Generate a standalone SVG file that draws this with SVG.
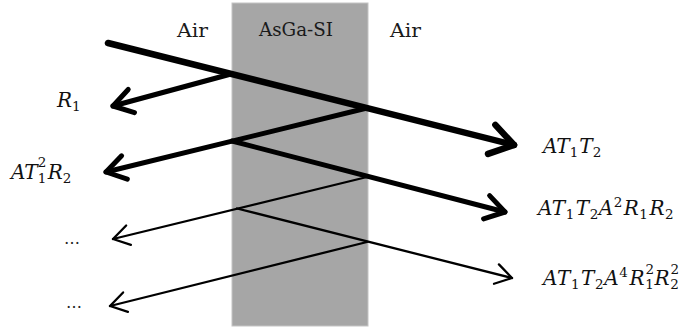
<svg xmlns="http://www.w3.org/2000/svg" width="686" height="329" viewBox="0 0 686 329">
<style>
.lbl{font-family:"DejaVu Serif","Liberation Serif",serif;font-size:18px;fill:#1a1a1a}
.m{font-family:"DejaVu Serif","Liberation Serif",serif;font-size:20px;font-style:italic;fill:#111}
.s{font-size:13.5px;font-style:normal}
.c{fill:none;stroke:#000;stroke-linecap:round;stroke-linejoin:round}
.w1{stroke-width:6.5}
.w2{stroke-width:5}
.w3{stroke-width:2.3}
.dots{font-family:"DejaVu Serif","Liberation Serif",serif;font-size:16px;fill:#222}
</style>
<defs>
<marker id="aThick" markerUnits="userSpaceOnUse" orient="auto" overflow="visible" markerWidth="1" markerHeight="1" refX="0" refY="0">
<path d="M-23,-15 L0,0 L-23,15" fill="none" stroke="#000" stroke-width="6.5" stroke-linecap="round" stroke-linejoin="round"/>
</marker>
<marker id="aMed" markerUnits="userSpaceOnUse" orient="auto" overflow="visible" markerWidth="1" markerHeight="1" refX="0" refY="0">
<path d="M-19,-12 L0,0 L-19,12" fill="none" stroke="#000" stroke-width="5" stroke-linecap="round" stroke-linejoin="round"/>
</marker>
<marker id="aThin" markerUnits="userSpaceOnUse" orient="auto" overflow="visible" markerWidth="1" markerHeight="1" refX="0" refY="0">
<path d="M-16,-10 L0,0 L-16,10" fill="none" stroke="#000" stroke-width="2.3" stroke-linecap="round" stroke-linejoin="round"/>
</marker>
</defs>
<rect width="686" height="329" fill="#fff"/>
<g id="slab">
<rect x="232" y="3" width="136" height="323" fill="#a6a6a6" stroke="#c4c4c4" stroke-width="1"/>
</g>
<g id="labels-top">
<text class="lbl" x="177" y="37" textLength="31" lengthAdjust="spacingAndGlyphs">Air</text>
<text class="lbl" x="259" y="36" textLength="74" lengthAdjust="spacingAndGlyphs">AsGa-SI</text>
<text class="lbl" x="390" y="37" textLength="31" lengthAdjust="spacingAndGlyphs">Air</text>
</g>
<g id="connectors">
<path class="c w1" d="M108,43 L514,145" marker-end="url(#aThick)"/>
<path class="c w2" d="M231,74 L113,106" marker-end="url(#aMed)"/>
<path class="c w2" d="M367,108 L106,172" marker-end="url(#aMed)"/>
<path class="c w2" d="M232,141 L505,212" marker-end="url(#aMed)"/>
<path class="c w3" d="M367,177 L113,239" marker-end="url(#aThin)"/>
<path class="c w3" d="M237,208.5 L512,278" marker-end="url(#aThin)"/>
<path class="c w3" d="M367,242 L110,306" marker-end="url(#aThin)"/>
</g>
<g id="label-R1">
<text class="m" x="57" y="107">R<tspan class="s" dy="4">1</tspan></text>
</g>
<g id="label-AT12R2">
<text class="m" x="11" y="179">AT<tspan class="s" dy="4">1</tspan><tspan class="s" dx="-8.6" dy="-16">2</tspan><tspan dx="1.5" dy="12">R</tspan><tspan class="s" dy="4">2</tspan></text>
</g>
<g id="label-dots1">
<text class="dots" x="64" y="244">…</text>
</g>
<g id="label-dots2">
<text class="dots" x="66" y="308">…</text>
</g>
<g id="label-AT1T2">
<text class="m" x="543" y="153">AT<tspan class="s" dy="4">1</tspan><tspan dx="1" dy="-4">T</tspan><tspan class="s" dy="4">2</tspan></text>
</g>
<g id="label-AT1T2A2R1R2">
<text class="m" x="538" y="215" letter-spacing="0.5">AT<tspan class="s" dy="4">1</tspan><tspan dx="1" dy="-4">T</tspan><tspan class="s" dy="4">2</tspan><tspan dy="-4">A</tspan><tspan class="s" dy="-8">2</tspan><tspan dx="1" dy="8">R</tspan><tspan class="s" dy="4">1</tspan><tspan dx="1" dy="-4">R</tspan><tspan class="s" dy="4">2</tspan></text>
</g>
<g id="label-AT1T2A4R12R22">
<text class="m" x="543" y="285" letter-spacing="0.6">AT<tspan class="s" dy="4">1</tspan><tspan dx="1" dy="-4">T</tspan><tspan class="s" dy="4">2</tspan><tspan dy="-4">A</tspan><tspan class="s" dy="-8">4</tspan><tspan dx="1" dy="8">R</tspan><tspan class="s" dy="4">1</tspan><tspan class="s" dx="-9" dy="-15">2</tspan><tspan dy="11">R</tspan><tspan class="s" dy="4">2</tspan><tspan class="s" dx="-9" dy="-15">2</tspan></text>
</g>
</svg>
